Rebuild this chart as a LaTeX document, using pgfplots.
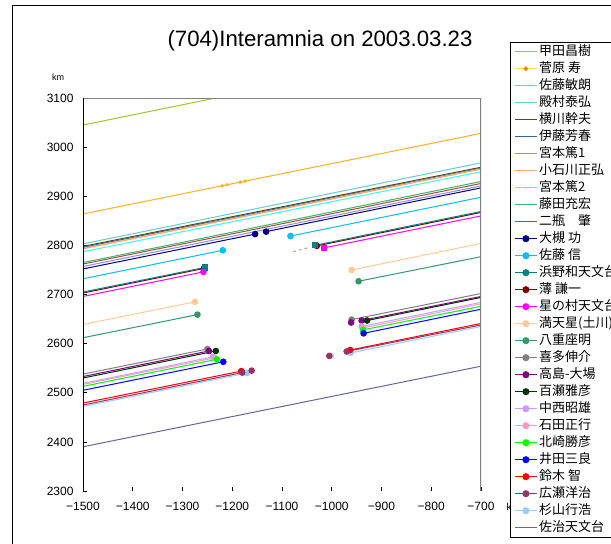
\documentclass[border=0pt]{standalone}
\usepackage{pgfplots}
\pgfplotsset{compat=1.18}
\usepackage{fontspec}
\setmainfont{Liberation Sans}
\newfontfamily\cjk{Noto Sans CJK JP}
\definecolor{cKouda}{HTML}{99CC33}
\definecolor{cSugawara}{HTML}{FFB020}
\definecolor{cSatoT}{HTML}{FFA54F}
\definecolor{cTonomura}{HTML}{66CCCC}
\definecolor{cYokokawa}{HTML}{4D4D1A}
\definecolor{cIto}{HTML}{336699}
\definecolor{cMiyamotoA}{HTML}{8C8CFF}
\definecolor{cKoishikawa}{HTML}{FFAA80}
\definecolor{cMiyamotoB}{HTML}{33FFFF}
\definecolor{cFujita}{HTML}{3CB371}
\definecolor{cNihei}{HTML}{A0522D}
\definecolor{cOtsuki}{HTML}{000080}
\definecolor{cSatoS}{HTML}{00BFFF}
\definecolor{cHamano}{HTML}{008080}
\definecolor{cUsui}{HTML}{800000}
\definecolor{cHoshi}{HTML}{FF00FF}
\definecolor{cDodan}{HTML}{FFCC99}
\definecolor{cYae}{HTML}{339966}
\definecolor{cKita}{HTML}{808080}
\definecolor{cTakashima}{HTML}{800080}
\definecolor{cMomose}{HTML}{003300}
\definecolor{cNakanishi}{HTML}{CC99FF}
\definecolor{cIshida}{HTML}{FF99CC}
\definecolor{cKitazaki}{HTML}{00FF00}
\definecolor{cIda}{HTML}{0000FF}
\definecolor{cSuzuki}{HTML}{FF0000}
\definecolor{cHirose}{HTML}{993366}
\definecolor{cSugiyama}{HTML}{99CCFF}
\definecolor{cSaji}{HTML}{666699}
\begin{document}
\begin{tikzpicture}[x=1pt,y=1pt]
\useasboundingbox (0,0) rectangle (611,544);
\clip (0,0) rectangle (611,544);
\fill[white] (0,0) rectangle (611,544);
\draw[black, line width=0.8pt] (12,0) -- (12,539) -- (611,539);
\node[anchor=base, font=\fontsize{22.2}{23}\selectfont] at (320,497) {(704)Interamnia on 2003.03.23};
\node[font=\fontsize{9}{10}\selectfont] at (58,467) {km};
\node[anchor=west, font=\fontsize{10}{10}\selectfont] at (503,37) {km};
\begin{axis}[
  at={(83pt,53pt)}, anchor=south west,
  width=398pt, height=393pt, scale only axis,
  xmin=-1500, xmax=-700, ymin=2300, ymax=3100,
  axis line style={draw=none},
  xtick={-1500,-1400,-1300,-1200,-1100,-1000,-900,-800,-700},
  xticklabels={−1500,−1400,−1300,−1200,−1100,−1000,−900,−800,−700},
  ytick={2300,2400,2500,2600,2700,2800,2900,3000,3100},
  yticklabels={2300,2400,2500,2600,2700,2800,2900,3000,3100},
  xtick pos=bottom, ytick pos=left,
  tick align=inside, major tick length=4pt,
  tick style={black, line width=0.6pt},
  ticklabel style={font=\fontsize{12}{12}\selectfont},
  xticklabel style={yshift=-8pt},
  yticklabel style={xshift=-6pt},
  clip=true,
  every axis plot/.append style={line width=1pt, mark size=2.8pt},
  legend image code/.code={\draw[mark repeat=2,mark phase=2,#1] plot coordinates {(0pt,0pt)(11pt,0pt)(22pt,0pt)};},
  legend cell align=left,
  legend style={at={(1.0729,1.1425)}, anchor=north west, draw=black, fill=white,
    font=\cjk\fontsize{13}{13}\selectfont, row sep=0pt, inner xsep=4pt, inner ysep=1pt,
    nodes={inner ysep=0pt, inner xsep=1.5pt, text height=12pt, text depth=5pt}},
]
% continuous tracks
\addplot[cKouda, forget plot] coordinates {(-1500,3045) (-700,3210)};
\addplot[cSugawara, mark=*, mark size=1.2pt, mark indices={2,3,4,5}, forget plot] coordinates {(-1500,2864) (-1220,2921.4) (-1210,2923.5) (-1184,2928.8) (-1174,2930.8) (-700,3028)};
\addplot[cSatoT, forget plot] coordinates {(-1500,2793) (-700,2955)};
\addplot[cTonomura, forget plot] coordinates {(-1500,2803) (-700,2968)};
\addplot[cYokokawa, forget plot] coordinates {(-1500,2798) (-700,2959)};
\addplot[cIto, forget plot] coordinates {(-1500,2796) (-700,2957)};
\addplot[cMiyamotoA, forget plot] coordinates {(-1500,2757) (-700,2921)};
\addplot[cKoishikawa, forget plot] coordinates {(-1500,2794) (-700,2956)};
\addplot[cMiyamotoB, forget plot] coordinates {(-1500,2787) (-700,2950)};
\addplot[cFujita, forget plot] coordinates {(-1500,2765) (-700,2930)};
\addplot[cNihei, forget plot] coordinates {(-1500,2762) (-700,2926)};
\addplot[cSaji, forget plot] coordinates {(-1500,2390) (-700,2554)};
% chords with disappearance / reappearance
\addplot[cOtsuki, mark=*, mark indices={2}, forget plot] coordinates {(-1500,2752) (-1154,2823)};
\addplot[cOtsuki, mark=*, mark indices={1}, forget plot] coordinates {(-1132,2828) (-700,2917)};
\addplot[cSatoS, mark=*, mark indices={2}, forget plot] coordinates {(-1500,2732) (-1219,2790)};
\addplot[cSatoS, mark=*, mark indices={1}, forget plot] coordinates {(-1083,2819) (-700,2898)};
\addplot[cUsui, mark=*, mark indices={2}, forget plot] coordinates {(-1500,2703) (-1257,2753)};
\addplot[cUsui, mark=*, mark indices={1}, forget plot] coordinates {(-1030,2799) (-700,2867)};
\addplot[cHamano, mark=square*, mark size=2.6pt, mark indices={2}, forget plot] coordinates {(-1500,2705) (-1255,2755)};
\addplot[cHamano, mark=square*, mark size=2.6pt, mark indices={1}, forget plot] coordinates {(-1034,2800) (-700,2869)};
\addplot[cHoshi, mark=*, mark indices={2}, forget plot] coordinates {(-1500,2696) (-1258,2746)};
\addplot[cHoshi, mark=square*, mark size=2.6pt, mark indices={1}, forget plot] coordinates {(-1015,2795) (-700,2860)};
\addplot[cDodan, mark=*, mark indices={2}, forget plot] coordinates {(-1500,2639) (-1275,2685)};
\addplot[cDodan, mark=*, mark indices={1}, forget plot] coordinates {(-960,2750) (-700,2804)};
\addplot[cYae, mark=*, mark indices={2}, forget plot] coordinates {(-1500,2612) (-1270,2659)};
\addplot[cYae, mark=*, mark indices={1}, forget plot] coordinates {(-946,2727) (-700,2777)};
\addplot[cKita, mark=*, mark indices={2}, forget plot] coordinates {(-1500,2538) (-1250,2589)};
\addplot[cKita, mark=*, mark indices={1}, forget plot] coordinates {(-960,2649) (-700,2702)};
\addplot[cTakashima, mark=*, mark indices={2}, forget plot] coordinates {(-1500,2533) (-1247,2585)};
\addplot[cTakashima, only marks, mark=*, forget plot] coordinates {(-961,2643)};
\addplot[cTakashima, mark=*, mark indices={1}, forget plot] coordinates {(-940,2647) (-700,2696)};
\addplot[cMomose, mark=*, mark indices={2}, forget plot] coordinates {(-1500,2530) (-1233,2585)};
\addplot[cMomose, mark=*, mark indices={1}, forget plot] coordinates {(-929,2647) (-700,2694)};
\addplot[cNakanishi, mark=*, mark indices={2}, forget plot] coordinates {(-1500,2519) (-1239,2573)};
\addplot[cNakanishi, mark=*, mark indices={1}, forget plot] coordinates {(-940,2635) (-700,2684)};
\addplot[cIshida, mark=*, mark indices={2}, forget plot] coordinates {(-1500,2517) (-1235,2571)};
\addplot[cIshida, mark=*, mark indices={1}, forget plot] coordinates {(-937,2632) (-700,2681)};
\addplot[cKitazaki, mark=*, mark indices={2}, forget plot] coordinates {(-1500,2513) (-1231,2568)};
\addplot[cKitazaki, mark=*, mark indices={1}, forget plot] coordinates {(-937,2628) (-700,2676)};
\addplot[cIda, mark=*, mark indices={2}, forget plot] coordinates {(-1500,2505) (-1218,2563)};
\addplot[cIda, mark=*, mark indices={1}, forget plot] coordinates {(-936,2621) (-700,2670)};
\addplot[cSugiyama, mark=*, mark indices={2}, forget plot] coordinates {(-1500,2472) (-1171,2540)};
\addplot[cSugiyama, only marks, mark=*, forget plot] coordinates {(-1002,2575)};
\addplot[cSugiyama, mark=*, mark indices={1}, forget plot] coordinates {(-962,2581) (-700,2635)};
\addplot[cSuzuki, mark=*, mark indices={2}, forget plot] coordinates {(-1500,2479) (-1182,2544)};
\addplot[cSuzuki, mark=*, mark indices={1}, forget plot] coordinates {(-963,2587) (-700,2641)};
\addplot[cHirose, mark=*, mark indices={2,3}, forget plot] coordinates {(-1500,2475) (-1180,2541) (-1161,2545)};
\addplot[cHirose, only marks, mark=*, forget plot] coordinates {(-1005,2575)};
\addplot[cHirose, mark=*, mark indices={1}, forget plot] coordinates {(-970,2584) (-700,2638)};
\addplot[color={rgb,255:red,200;green,160;blue,128}, dashed, forget plot] coordinates {(-1078,2787) (-1048,2795)};
% frame
\draw[gray, line width=1.6pt] (rel axis cs:1,0) -- (rel axis cs:1,1);
\draw[gray, line width=0.8pt] (rel axis cs:0,1) -- (rel axis cs:1,1);
\draw[black, line width=0.8pt] (rel axis cs:0,1) -- (rel axis cs:0,0) -- (rel axis cs:1,0);
% legend
\addlegendimage{cKouda, line width=1.4pt}\addlegendentry{甲田昌樹}
\addlegendimage{color={rgb,255:red,255;green,215;blue,100}, line width=1.4pt, mark=*, mark size=1.5pt, mark options={fill=orange,draw=orange}}\addlegendentry{菅原 寿}
\addlegendimage{cSatoT, line width=1.4pt}\addlegendentry{佐藤敏朗}
\addlegendimage{cTonomura, line width=1.4pt}\addlegendentry{殿村泰弘}
\addlegendimage{cYokokawa, line width=1.4pt}\addlegendentry{横川幹夫}
\addlegendimage{cIto, line width=1.4pt}\addlegendentry{伊藤芳春}
\addlegendimage{cMiyamotoA, line width=1.4pt}\addlegendentry{宮本篤1}
\addlegendimage{cKoishikawa, line width=1.4pt}\addlegendentry{小石川正弘}
\addlegendimage{cMiyamotoB, line width=1.4pt}\addlegendentry{宮本篤2}
\addlegendimage{cFujita, line width=1.4pt}\addlegendentry{藤田充宏}
\addlegendimage{cNihei, line width=1.4pt}\addlegendentry{二瓶　肇}
\addlegendimage{cOtsuki, line width=1.4pt, mark=*, mark size=2.8pt}\addlegendentry{大槻 功}
\addlegendimage{cSatoS, line width=1.4pt, mark=*, mark size=2.8pt}\addlegendentry{佐藤 信}
\addlegendimage{cHamano, line width=1.4pt, mark=*, mark size=2.8pt}\addlegendentry{浜野和天文台}
\addlegendimage{cUsui, line width=1.4pt, mark=*, mark size=2.8pt}\addlegendentry{薄 謙一}
\addlegendimage{cHoshi, line width=1.4pt, mark=*, mark size=2.8pt}\addlegendentry{星の村天文台}
\addlegendimage{cDodan, line width=1.4pt, mark=*, mark size=2.8pt}\addlegendentry{満天星(土川)}
\addlegendimage{cYae, line width=1.4pt, mark=*, mark size=2.8pt}\addlegendentry{八重座明}
\addlegendimage{cKita, line width=1.4pt, mark=*, mark size=2.8pt}\addlegendentry{喜多伸介}
\addlegendimage{cTakashima, line width=1.4pt, mark=*, mark size=2.8pt}\addlegendentry{高島-大場}
\addlegendimage{cMomose, line width=1.4pt, mark=*, mark size=2.8pt}\addlegendentry{百瀬雅彦}
\addlegendimage{cNakanishi, line width=1.4pt, mark=*, mark size=2.8pt}\addlegendentry{中西昭雄}
\addlegendimage{cIshida, line width=1.4pt, mark=*, mark size=2.8pt}\addlegendentry{石田正行}
\addlegendimage{cKitazaki, line width=1.4pt, mark=*, mark size=2.8pt}\addlegendentry{北崎勝彦}
\addlegendimage{cIda, line width=1.4pt, mark=*, mark size=2.8pt}\addlegendentry{井田三良}
\addlegendimage{cSuzuki, line width=1.4pt, mark=*, mark size=2.8pt}\addlegendentry{鈴木 智}
\addlegendimage{cHirose, line width=1.4pt, mark=*, mark size=2.8pt}\addlegendentry{広瀬洋治}
\addlegendimage{cSugiyama, line width=1.4pt, mark=*, mark size=2.8pt}\addlegendentry{杉山行浩}
\addlegendimage{cSaji, line width=1.4pt}\addlegendentry{佐治天文台}
\end{axis}
\end{tikzpicture}
\end{document}
